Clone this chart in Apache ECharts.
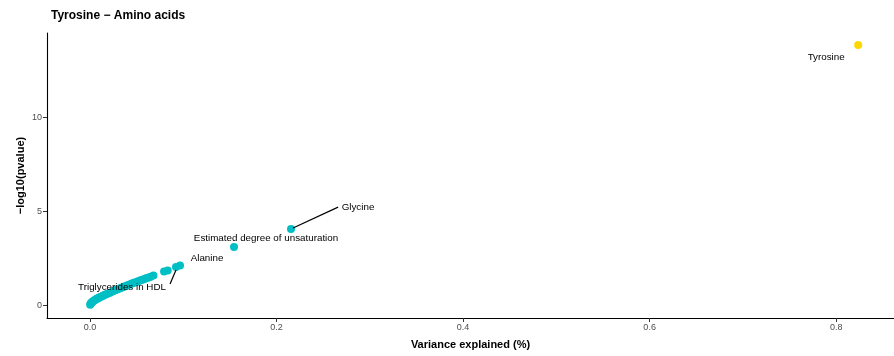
<!DOCTYPE html>
<html>
<head>
<meta charset="utf-8">
<script src="https://cdn.jsdelivr.net/npm/echarts@6/dist/echarts.min.js"></script>
<style>html,body{margin:0;padding:0;background:#fff}#c{width:894px;height:356px}</style>
</head>
<body>
<div id="c"></div>
<script>
// ---- data ----
const chartTitle = 'Tyrosine \u2212 Amino acids';
const xTicks = [0, 0.2, 0.4, 0.6, 0.8];
const yTicks = [0, 5, 10];
// unlabelled metabolites: variance explained (%) and -log10(p)
const bandX = [0.0002,0.0005,0.001,0.0015,0.002,0.003,0.004,0.005,0.006,0.007,0.008,0.009,0.010,0.0115,0.013,0.0145,0.016,0.018,0.020,0.022,0.0245,0.027,0.029,0.031,0.033,0.035,0.037,0.039,0.041,0.043,0.045,0.047,0.049,0.051,0.053,0.055,0.057,0.059,0.061,0.063,0.065,0.068,0.0794,0.0833];
const bandY = [0.02,0.05,0.09,0.12,0.15,0.19,0.23,0.26,0.29,0.32,0.35,0.38,0.40,0.44,0.47,0.51,0.55,0.59,0.63,0.67,0.73,0.78,0.82,0.86,0.91,0.95,0.99,1.02,1.06,1.10,1.14,1.18,1.21,1.25,1.29,1.33,1.36,1.40,1.44,1.47,1.51,1.57,1.78,1.84];
// labelled metabolites
const labNames = ['Glycine', 'Estimated degree of unsaturation', 'Alanine', 'Triglycerides in HDL'];
const labX = [0.2155, 0.1544, 0.0965, 0.0922];
const labY = [4.04, 3.09, 2.10, 2.02];
// the trait itself
const traitName = ['Tyrosine'];
const traitX = [0.8236];
const traitY = [13.83];

// ---- styles (label offsets in px) ----
const labOffsets = [[67,-22],[32,-9],[27,-7],[-54,20]];
const teal = '#00BFC4';
const gold = '#FFD700';
const font = 'Liberation Sans, Arial, Helvetica, sans-serif';

const bandData = bandX.map((x,i)=>[x, bandY[i]]);
const labData = labNames.map((n,i)=>({name:n, value:[labX[i], labY[i]],
  label:{show:true, formatter:n, position:'inside', offset:labOffsets[i], color:'#000', fontSize:9.8, fontFamily:font}}));
const traitData = traitName.map((n,i)=>({name:n, value:[traitX[i], traitY[i]],
  label:{show:true, formatter:n, position:'inside', offset:[-32,12], color:'#000', fontSize:9.8, fontFamily:font}}));

const chart = echarts.init(document.getElementById('c'), null, {renderer:'canvas'});
chart.setOption({
  animation:false,
  title:{text:chartTitle, left:46, top:5, textStyle:{fontSize:12, fontWeight:'bold', color:'#000', fontFamily:font}},
  grid:{left:47, right:0, top:33, bottom:38, containLabel:false},
  xAxis:{type:'value', min:-0.0461, max:0.862,
    name:'Variance explained (%)', nameLocation:'middle', nameGap:21, nameMoveOverlap:false,
    nameTextStyle:{fontSize:11, fontWeight:'bold', color:'#000', fontFamily:font},
    axisLine:{show:true, onZero:false, lineStyle:{color:'#000', width:1.1}},
    axisTick:{show:true, length:4, customValues:xTicks, lineStyle:{color:'#333'}},
    axisLabel:{customValues:xTicks, formatter:v=>v.toFixed(1), color:'#4D4D4D', fontSize:9, fontFamily:font, margin:5},
    splitLine:{show:false}},
  yAxis:{type:'value', min:-0.69, max:14.47,
    name:'\u2212log10(pvalue)', nameLocation:'middle', nameGap:21, nameRotate:90, nameMoveOverlap:false,
    nameTextStyle:{fontSize:11, fontWeight:'bold', color:'#000', fontFamily:font},
    axisLine:{show:true, onZero:false, lineStyle:{color:'#000', width:1.1}},
    axisTick:{show:true, length:4, customValues:yTicks, lineStyle:{color:'#333'}},
    axisLabel:{customValues:yTicks, color:'#4D4D4D', fontSize:9, fontFamily:font, margin:5},
    splitLine:{show:false}},
  series:[
    {type:'scatter', data:bandData, symbolSize:8, itemStyle:{color:teal, opacity:1}, z:2},
    {type:'scatter', data:labData, symbolSize:8, itemStyle:{color:teal, opacity:1}, z:3,
      markLine:{silent:true, symbol:'none', label:{show:false}, lineStyle:{color:'#000', width:1.2, type:'solid'},
        data:[
          [{coord:[0.2177,4.10]},{coord:[0.266,5.21]}],
          [{coord:[0.0858,1.117]},{coord:[0.0922,1.86]}]
        ]}},
    {type:'scatter', data:traitData, symbolSize:8, itemStyle:{color:gold, opacity:1}, z:3}
  ]
});
</script>
</body>
</html>
